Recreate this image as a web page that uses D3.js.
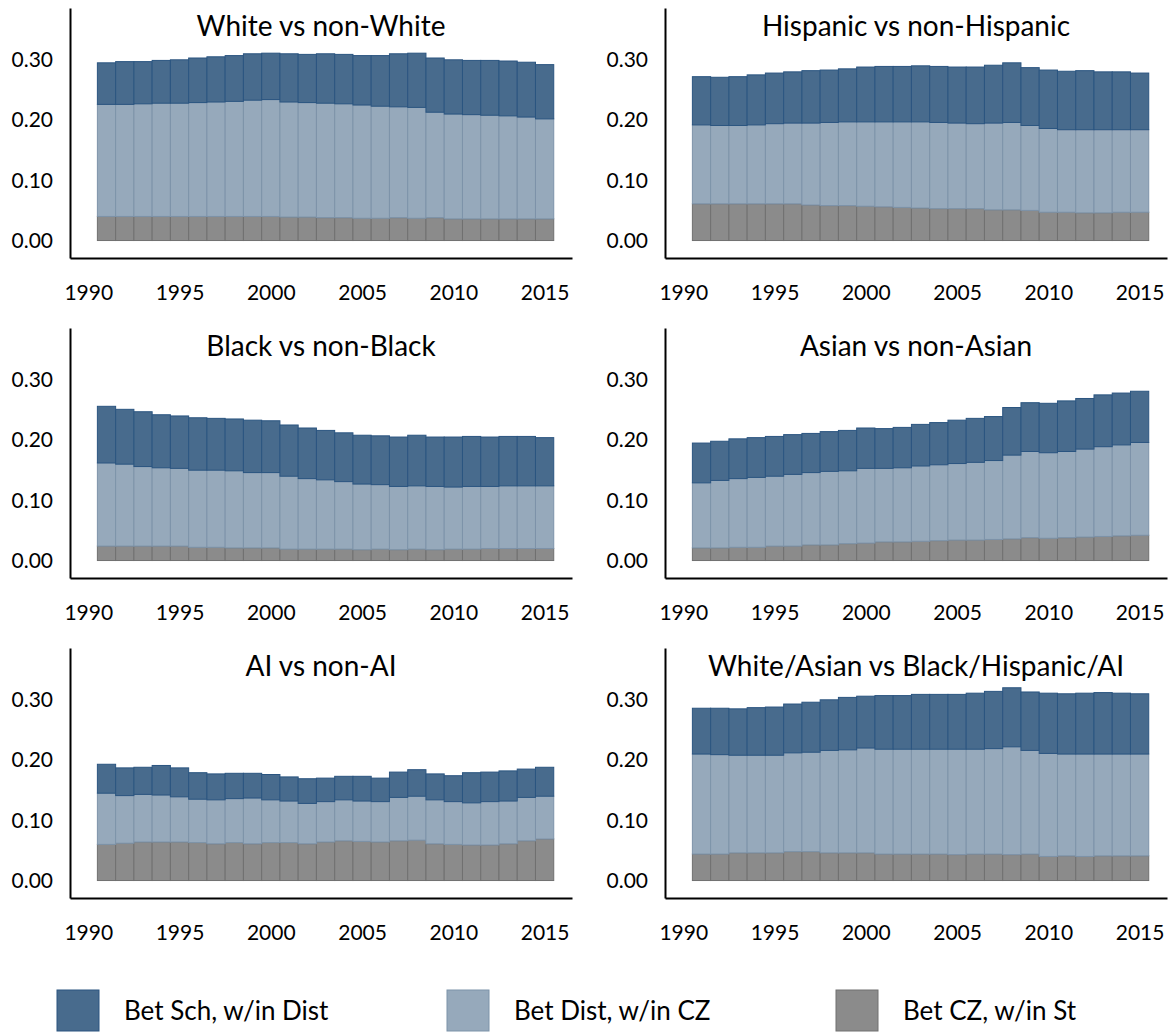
<!DOCTYPE html>
<html>
<head>
<meta charset="utf-8">
<script src="https://cdn.jsdelivr.net/npm/d3@7"></script>
<style>
  html, body { margin: 0; padding: 0; background: #ffffff; }
  svg { display: block; font-family: Lato, Carlito, Calibri, "Open Sans", sans-serif; }
</style>
</head>
<body>
<svg id="chart" width="1172" height="1034"></svg>
<script>
// School years shown in every panel
const years = [1991, 1992, 1993, 1994, 1995, 1996, 1997, 1998, 1999, 2000,
               2001, 2002, 2003, 2004, 2005, 2006, 2007, 2008, 2009, 2010,
               2011, 2012, 2013, 2014, 2015];
const yearTicks = [1990, 1995, 2000, 2005, 2010, 2015];
const valueTicks = [0.00, 0.10, 0.20, 0.30];

const panelTitles = ["White vs non-White", "Hispanic vs non-Hispanic",
                     "Black vs non-Black", "Asian vs non-Asian",
                     "AI vs non-AI", "White/Asian vs Black/Hispanic/AI"];
const seriesNames = ["Bet Sch, w/in Dist", "Bet Dist, w/in CZ", "Bet CZ, w/in St"];

// White vs non-White
const whiteCZ   = [0.040,0.040,0.040,0.040,0.040,0.040,0.040,0.040,0.040,0.040,0.039,0.039,0.038,0.038,0.037,0.037,0.038,0.037,0.038,0.036,0.036,0.036,0.036,0.036,0.036];
const whiteDist = [0.186,0.186,0.187,0.188,0.188,0.189,0.190,0.191,0.193,0.194,0.191,0.190,0.190,0.189,0.188,0.186,0.184,0.184,0.175,0.174,0.173,0.172,0.171,0.169,0.166];
const whiteSch  = [0.069,0.071,0.070,0.071,0.072,0.074,0.075,0.076,0.077,0.077,0.080,0.080,0.082,0.082,0.082,0.084,0.088,0.090,0.090,0.090,0.090,0.091,0.091,0.091,0.090];

// Hispanic vs non-Hispanic
const hispCZ   = [0.061,0.061,0.061,0.061,0.061,0.061,0.059,0.058,0.058,0.057,0.056,0.055,0.054,0.053,0.053,0.053,0.051,0.051,0.050,0.047,0.047,0.046,0.046,0.047,0.047];
const hispDist = [0.131,0.130,0.130,0.131,0.133,0.134,0.136,0.138,0.139,0.140,0.141,0.142,0.143,0.143,0.142,0.141,0.144,0.145,0.141,0.139,0.137,0.138,0.138,0.137,0.137];
const hispSch  = [0.080,0.080,0.081,0.083,0.084,0.085,0.087,0.087,0.088,0.091,0.092,0.092,0.093,0.093,0.093,0.094,0.096,0.099,0.096,0.097,0.097,0.098,0.096,0.096,0.094];

// Black vs non-Black
const blackCZ   = [0.024,0.024,0.024,0.024,0.024,0.022,0.022,0.021,0.021,0.021,0.019,0.019,0.019,0.019,0.018,0.019,0.018,0.019,0.018,0.019,0.019,0.020,0.020,0.020,0.020];
const blackDist = [0.138,0.136,0.132,0.130,0.129,0.128,0.128,0.128,0.125,0.125,0.121,0.117,0.115,0.112,0.109,0.107,0.105,0.105,0.105,0.103,0.104,0.103,0.104,0.104,0.104];
const blackSch  = [0.094,0.091,0.091,0.088,0.087,0.087,0.086,0.086,0.087,0.086,0.085,0.084,0.082,0.081,0.081,0.081,0.082,0.084,0.082,0.083,0.083,0.082,0.082,0.082,0.080];

// Asian vs non-Asian
const asianCZ   = [0.021,0.021,0.022,0.022,0.024,0.024,0.026,0.026,0.028,0.029,0.031,0.031,0.032,0.033,0.034,0.034,0.035,0.036,0.038,0.037,0.038,0.039,0.040,0.041,0.042];
const asianDist = [0.108,0.112,0.114,0.116,0.116,0.119,0.120,0.122,0.121,0.124,0.122,0.123,0.125,0.126,0.127,0.129,0.131,0.139,0.143,0.142,0.143,0.146,0.149,0.151,0.154];
const asianSch  = [0.066,0.065,0.066,0.066,0.066,0.066,0.065,0.066,0.067,0.067,0.066,0.067,0.069,0.070,0.072,0.073,0.073,0.079,0.081,0.082,0.084,0.084,0.086,0.086,0.085];

// AI vs non-AI
const aiCZ   = [0.060,0.062,0.064,0.064,0.064,0.063,0.061,0.063,0.061,0.063,0.063,0.061,0.064,0.066,0.065,0.064,0.066,0.067,0.061,0.060,0.059,0.059,0.061,0.066,0.069];
const aiDist = [0.085,0.079,0.079,0.078,0.075,0.072,0.073,0.073,0.076,0.071,0.069,0.067,0.067,0.068,0.067,0.067,0.072,0.073,0.073,0.071,0.070,0.072,0.071,0.072,0.071];
const aiSch  = [0.048,0.046,0.045,0.049,0.048,0.044,0.043,0.042,0.041,0.042,0.040,0.041,0.039,0.039,0.041,0.039,0.042,0.044,0.043,0.043,0.050,0.049,0.050,0.047,0.048];

// White/Asian vs Black/Hispanic/AI
const waCZ   = [0.044,0.044,0.046,0.046,0.046,0.048,0.048,0.046,0.046,0.046,0.044,0.044,0.044,0.044,0.043,0.044,0.044,0.043,0.044,0.040,0.041,0.040,0.041,0.041,0.041];
const waDist = [0.166,0.165,0.162,0.162,0.162,0.164,0.165,0.170,0.171,0.174,0.174,0.174,0.174,0.174,0.175,0.174,0.175,0.179,0.172,0.171,0.169,0.170,0.169,0.169,0.169];
const waSch  = [0.076,0.077,0.077,0.079,0.080,0.081,0.083,0.084,0.087,0.086,0.089,0.089,0.091,0.091,0.091,0.093,0.095,0.098,0.097,0.100,0.100,0.101,0.102,0.101,0.100];

const panelSeries = [
  [whiteCZ, whiteDist, whiteSch],
  [hispCZ, hispDist, hispSch],
  [blackCZ, blackDist, blackSch],
  [asianCZ, asianDist, asianSch],
  [aiCZ, aiDist, aiSch],
  [waCZ, waDist, waSch]
];

// stacking order bottom -> top
const keys = ["cz", "dist", "sch"];
const fills   = { sch: "#486b8d", dist: "#96a9bb", cz: "#8b8b8b" };
const strokes = { sch: "#2b5580", dist: "#7d93a9", cz: "#707070" };

const svg = d3.select("#chart");
const colLeft = [70, 665];
const plotW = 502;
const rowTop = [8, 328, 648];
const plotH = 250;

const stack = d3.stack().keys(keys);

panelSeries.forEach((series, i) => {
  const col = i % 2, row = Math.floor(i / 2);
  const x0 = colLeft[col], y0 = rowTop[row];

  const x = d3.scaleLinear().domain([1989, 2016.5]).range([x0, x0 + plotW]);
  const y = d3.scaleLinear().domain([-0.029, 0.386]).range([y0 + plotH, y0]);

  const rows = years.map((yr, j) => ({ year: yr, cz: series[0][j], dist: series[1][j], sch: series[2][j] }));
  const layers = stack(rows);

  const g = svg.append("g");

  g.selectAll("g.layer")
    .data(layers)
    .join("g")
      .attr("class", "layer")
      .attr("fill", d => fills[d.key])
      .attr("stroke", d => strokes[d.key])
      .attr("stroke-width", 1)
    .selectAll("rect")
    .data(d => d)
    .join("rect")
      .attr("x", d => x(d.data.year - 0.5))
      .attr("width", d => x(d.data.year + 0.5) - x(d.data.year - 0.5))
      .attr("y", d => y(d[1]))
      .attr("height", d => y(d[0]) - y(d[1]));

  // value axis
  const ay = g.append("g")
    .attr("transform", `translate(${x0},0)`)
    .call(d3.axisLeft(y).tickValues(valueTicks).tickFormat(d3.format(".2f"))
      .tickSize(0).tickSizeOuter(0).tickPadding(17));
  ay.select(".domain").attr("stroke", "#000").attr("stroke-width", 2);
  ay.selectAll("text").attr("font-size", 21).attr("fill", "#000")
    .style("font-family", "Lato, Carlito, Calibri, sans-serif");

  // year axis
  const ax = g.append("g")
    .attr("transform", `translate(0,${y0 + plotH})`)
    .call(d3.axisBottom(x).tickValues(yearTicks).tickFormat(d3.format("d"))
      .tickSize(0).tickSizeOuter(0).tickPadding(27));
  ax.select(".domain").attr("stroke", "#000").attr("stroke-width", 2);
  ax.selectAll("text").attr("font-size", 21).attr("fill", "#000")
    .style("font-family", "Lato, Carlito, Calibri, sans-serif");

  // panel title
  g.append("text")
    .attr("x", x0 + plotW / 2)
    .attr("y", y0 + 28)
    .attr("text-anchor", "middle")
    .attr("font-size", 28)
    .attr("fill", "#000")
    .text(panelTitles[i]);
});

// legend
const legendX = [57, 447, 836];
const legendKeys = ["sch", "dist", "cz"];
const legend = svg.append("g");
legendKeys.forEach((k, i) => {
  legend.append("rect")
    .attr("x", legendX[i]).attr("y", 990)
    .attr("width", 42).attr("height", 41)
    .attr("fill", fills[k]).attr("stroke", strokes[k]).attr("stroke-width", 1);
  legend.append("text")
    .attr("x", legendX[i] + 67).attr("y", 1011)
    .attr("dy", "0.35em")
    .attr("font-size", 26)
    .attr("fill", "#000")
    .text(seriesNames[i]);
});
</script>
</body>
</html>
